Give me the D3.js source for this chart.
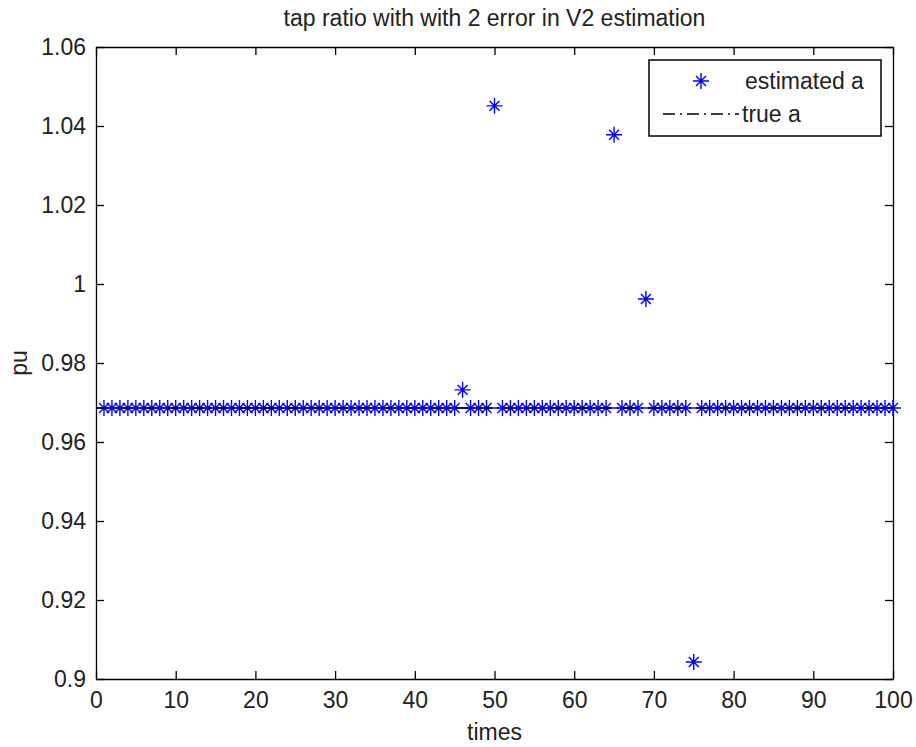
<!DOCTYPE html>
<html>
<head>
<meta charset="utf-8">
<script src="https://cdn.jsdelivr.net/npm/d3@7"></script>
<style>
  body { margin: 0; background: #fff; }
  svg { display: block; font-family: "Liberation Sans", Arial, sans-serif; }
  .axis path, .axis line { stroke: #000; stroke-width: 1.3; }
  .axis text { font-size: 23px; fill: #222; }
</style>
</head>
<body>
<svg id="chart" width="916" height="747"></svg>
<script>
var titleText = "tap ratio with with 2 error in V2 estimation";
var xLabel = "times", yLabel = "pu";
var legendLabels = ["estimated a", "true a"];

var xTicks = [0, 10, 20, 30, 40, 50, 60, 70, 80, 90, 100];
var yTicks = [0.9, 0.92, 0.94, 0.96, 0.98, 1, 1.02, 1.04, 1.06];
var yTickLabels = ["0.9", "0.92", "0.94", "0.96", "0.98", "1", "1.02", "1.04", "1.06"];

// times 1..100
var times = [
  1, 2, 3, 4, 5, 6, 7, 8, 9, 10,
  11, 12, 13, 14, 15, 16, 17, 18, 19, 20,
  21, 22, 23, 24, 25, 26, 27, 28, 29, 30,
  31, 32, 33, 34, 35, 36, 37, 38, 39, 40,
  41, 42, 43, 44, 45, 46, 47, 48, 49, 50,
  51, 52, 53, 54, 55, 56, 57, 58, 59, 60,
  61, 62, 63, 64, 65, 66, 67, 68, 69, 70,
  71, 72, 73, 74, 75, 76, 77, 78, 79, 80,
  81, 82, 83, 84, 85, 86, 87, 88, 89, 90,
  91, 92, 93, 94, 95, 96, 97, 98, 99, 100
];

// estimated a
var estimatedA = [
  0.9686, 0.9686, 0.9686, 0.9686, 0.9686, 0.9686, 0.9686, 0.9686, 0.9686, 0.9686,
  0.9686, 0.9686, 0.9686, 0.9686, 0.9686, 0.9686, 0.9686, 0.9686, 0.9686, 0.9686,
  0.9686, 0.9686, 0.9686, 0.9686, 0.9686, 0.9686, 0.9686, 0.9686, 0.9686, 0.9686,
  0.9686, 0.9686, 0.9686, 0.9686, 0.9686, 0.9686, 0.9686, 0.9686, 0.9686, 0.9686,
  0.9686, 0.9686, 0.9686, 0.9686, 0.9686, 0.9732, 0.9686, 0.9686, 0.9686, 1.0451,
  0.9686, 0.9686, 0.9686, 0.9686, 0.9686, 0.9686, 0.9686, 0.9686, 0.9686, 0.9686,
  0.9686, 0.9686, 0.9686, 0.9686, 1.0378, 0.9686, 0.9686, 0.9686, 0.9962, 0.9686,
  0.9686, 0.9686, 0.9686, 0.9686, 0.9043, 0.9686, 0.9686, 0.9686, 0.9686, 0.9686,
  0.9686, 0.9686, 0.9686, 0.9686, 0.9686, 0.9686, 0.9686, 0.9686, 0.9686, 0.9686,
  0.9686, 0.9686, 0.9686, 0.9686, 0.9686, 0.9686, 0.9686, 0.9686, 0.9686, 0.9686
];

// true a (constant) over the plotted range
var trueTimes = [0, 100];
var trueA = [0.9686, 0.9686];

var svg = d3.select("#chart"),
  margin = {top: 47, right: 23, bottom: 68, left: 96},
  width = +svg.attr("width") - margin.left - margin.right,
  height = +svg.attr("height") - margin.top - margin.bottom,
  g = svg.append("g").attr("transform", "translate(" + margin.left + "," + margin.top + ")");

var x = d3.scaleLinear().domain([0, 100]).range([0, width]);
var y = d3.scaleLinear().domain([0.9, 1.06]).range([height, 0]);

// axes with inward ticks on all four sides
g.append("g").attr("class", "axis")
  .attr("transform", "translate(0," + height + ")")
  .call(d3.axisBottom(x).tickValues(xTicks).tickSizeInner(-8).tickSizeOuter(0).tickPadding(12))
  .selectAll("text").attr("dy", "0.72em");

g.append("g").attr("class", "axis")
  .call(d3.axisTop(x).tickValues(xTicks).tickSizeInner(-8).tickSizeOuter(0).tickFormat(""));

g.append("g").attr("class", "axis")
  .call(d3.axisLeft(y).tickValues(yTicks).tickSizeInner(-8).tickSizeOuter(0).tickPadding(10)
    .tickFormat(function(d, i) { return yTickLabels[i]; }));

g.append("g").attr("class", "axis")
  .attr("transform", "translate(" + width + ",0)")
  .call(d3.axisRight(y).tickValues(yTicks).tickSizeInner(-8).tickSizeOuter(0).tickFormat(""));

// star marker: plus + cross
function star(s) {
  var a = s, b = s * 0.62;
  return "M" + (-a) + ",0L" + a + ",0M0," + (-a) + "L0," + a +
    "M" + (-b) + "," + (-b) + "L" + b + "," + b + "M" + (-b) + "," + b + "L" + b + "," + (-b);
}

var pts = times.map(function(t, i) { return {t: t, v: estimatedA[i]}; });

g.append("g").selectAll("path")
  .data(pts)
  .enter().append("path")
  .attr("transform", function(d) { return "translate(" + x(d.t) + "," + y(d.v) + ")"; })
  .attr("d", star(8))
  .attr("fill", "none")
  .attr("stroke", "#0000ff")
  .attr("stroke-width", 1.4);

var line = d3.line()
  .x(function(d) { return x(d[0]); })
  .y(function(d) { return y(d[1]); });

g.append("path")
  .datum(trueTimes.map(function(t, i) { return [t, trueA[i]]; }))
  .attr("d", line)
  .attr("fill", "none")
  .attr("stroke", "#000")
  .attr("stroke-width", 1.5)
  .attr("stroke-dasharray", "12,5,2,5");

// title and labels
svg.append("text")
  .attr("x", margin.left + width / 2)
  .attr("y", 26)
  .attr("text-anchor", "middle")
  .style("font-size", "23px").style("fill", "#222")
  .text(titleText);

svg.append("text")
  .attr("x", margin.left + width / 2)
  .attr("y", 740)
  .attr("text-anchor", "middle")
  .style("font-size", "23px").style("fill", "#222")
  .text(xLabel);

svg.append("text")
  .attr("transform", "translate(27," + (margin.top + height / 2) + ") rotate(-90)")
  .attr("text-anchor", "middle")
  .style("font-size", "23px").style("fill", "#222")
  .text(yLabel);

// legend
var legend = svg.append("g").attr("transform", "translate(649,60)");
legend.append("rect")
  .attr("width", 232).attr("height", 76)
  .attr("fill", "#fff").attr("stroke", "#000").attr("stroke-width", 1.5);

legend.append("path")
  .attr("transform", "translate(52,21)")
  .attr("d", star(8))
  .attr("fill", "none").attr("stroke", "#0000ff").attr("stroke-width", 1.4);

legend.append("line")
  .attr("x1", 14).attr("x2", 90).attr("y1", 54).attr("y2", 54)
  .attr("stroke", "#000").attr("stroke-width", 1.5)
  .attr("stroke-dasharray", "12,5,2,5");

legend.selectAll("text.lg")
  .data(legendLabels)
  .enter().append("text")
  .attr("class", "lg")
  .attr("x", function(d, i) { return i === 0 ? 96 : 93; })
  .attr("y", function(d, i) { return i === 0 ? 29 : 62; })
  .style("font-size", "23px").style("fill", "#222")
  .text(function(d) { return d; });
</script>
</body>
</html>
